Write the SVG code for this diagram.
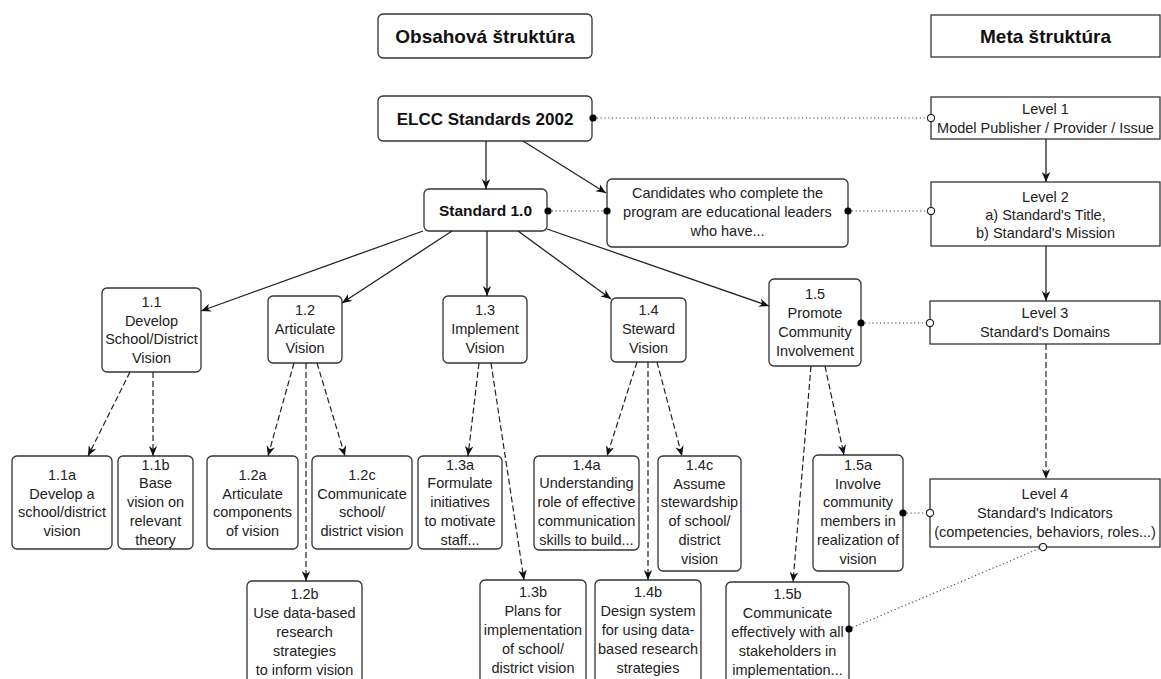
<svg xmlns="http://www.w3.org/2000/svg" width="1161" height="679" viewBox="0 0 1161 679">
<style>
  .box{fill:#fff;stroke:#333;stroke-width:1.3}
  .t{font-family:"Liberation Sans",Arial,sans-serif;font-size:14.5px;fill:#222;text-anchor:middle}
  .h{font-family:"Liberation Sans",Arial,sans-serif;font-size:19px;font-weight:bold;fill:#111;text-anchor:middle}
  .b17{font-family:"Liberation Sans",Arial,sans-serif;font-size:17px;font-weight:bold;fill:#111;text-anchor:middle}
  .b15{font-family:"Liberation Sans",Arial,sans-serif;font-size:15.5px;font-weight:bold;fill:#111;text-anchor:middle}
  .solid{fill:none;stroke:#222;stroke-width:1.3;marker-end:url(#arrow)}
  .dash{fill:none;stroke:#222;stroke-width:1.2;stroke-dasharray:6 3;marker-end:url(#arrow)}
  .dot{fill:none;stroke:#444;stroke-width:1.1;stroke-dasharray:1.2 2.6}
</style>
<defs>
  <marker id="arrow" viewBox="0 0 10 10" refX="10" refY="5" markerWidth="10" markerHeight="10" markerUnits="userSpaceOnUse" orient="auto">
    <path d="M0,0.8 L10,5 L0,9.2 L3,5 z" fill="#111"/>
  </marker>
  <marker id="fdot" viewBox="0 0 10 10" refX="5" refY="5" markerWidth="8" markerHeight="8" markerUnits="userSpaceOnUse">
    <circle cx="5" cy="5" r="4.5" fill="#000"/>
  </marker>
  <marker id="odot" viewBox="0 0 10 10" refX="5" refY="5" markerWidth="9" markerHeight="9" markerUnits="userSpaceOnUse">
    <circle cx="5" cy="5" r="4" fill="#fff" stroke="#222" stroke-width="1.3"/>
  </marker>
</defs>
<rect width="1161" height="679" fill="#fff"/>

<g id="obsahova">
  <rect class="box" x="378" y="14" width="214" height="44" rx="5"/>
  <text class="h" x="485" y="42.5">Obsahová štruktúra</text>
</g>
<g id="meta">
  <rect class="box" x="931" y="15" width="229" height="42"/>
  <text class="h" x="1045.5" y="42.5">Meta štruktúra</text>
</g>
<g id="elcc">
  <rect class="box" x="378" y="96" width="214" height="45" rx="5"/>
  <text class="b17" x="485" y="124.5">ELCC Standards 2002</text>
</g>
<g id="std10">
  <rect class="box" x="424" y="189" width="123" height="42" rx="5"/>
  <text class="b15" x="485.5" y="215.5">Standard 1.0</text>
</g>
<g id="candidates">
  <rect class="box" x="607" y="179" width="241" height="68" rx="5"/>
  <text class="t" x="727.5" y="198">Candidates who complete the</text>
  <text class="t" x="727.5" y="217">program are educational leaders</text>
  <text class="t" x="727.5" y="236">who have...</text>
</g>

<g id="level1">
  <rect class="box" x="931" y="97" width="229" height="42"/>
  <text class="t" x="1045.5" y="114">Level 1</text>
  <text class="t" x="1045.5" y="133">Model Publisher / Provider / Issue</text>
</g>
<g id="level2">
  <rect class="box" x="931" y="182" width="229" height="64"/>
  <text class="t" x="1045.5" y="202">Level 2</text>
  <text class="t" x="1045.5" y="220">a) Standard's Title,</text>
  <text class="t" x="1045.5" y="238">b) Standard's Mission</text>
</g>
<g id="level3">
  <rect class="box" x="930" y="301" width="230" height="43"/>
  <text class="t" x="1045" y="318">Level 3</text>
  <text class="t" x="1045" y="337">Standard's Domains</text>
</g>
<g id="level4">
  <rect class="box" x="930" y="479" width="230" height="68"/>
  <text class="t" x="1045" y="499">Level 4</text>
  <text class="t" x="1045" y="518">Standard's Indicators</text>
  <text class="t" x="1045" y="537">(competencies, behaviors, roles...)</text>
</g>

<g id="n1_1">
  <rect class="box" x="102" y="288" width="99" height="84" rx="5"/>
  <text class="t" x="151.5" y="307">1.1</text>
  <text class="t" x="151.5" y="325.5">Develop</text>
  <text class="t" x="151.5" y="344">School/District</text>
  <text class="t" x="151.5" y="363">Vision</text>
</g>
<g id="n1_2">
  <rect class="box" x="268" y="296" width="74" height="67" rx="5"/>
  <text class="t" x="305" y="315">1.2</text>
  <text class="t" x="305" y="334">Articulate</text>
  <text class="t" x="305" y="353">Vision</text>
</g>
<g id="n1_3">
  <rect class="box" x="443" y="296" width="84" height="67" rx="5"/>
  <text class="t" x="485" y="315">1.3</text>
  <text class="t" x="485" y="334">Implement</text>
  <text class="t" x="485" y="353">Vision</text>
</g>
<g id="n1_4">
  <rect class="box" x="611" y="298" width="75" height="64" rx="5"/>
  <text class="t" x="648.5" y="315">1.4</text>
  <text class="t" x="648.5" y="334">Steward</text>
  <text class="t" x="648.5" y="353">Vision</text>
</g>
<g id="n1_5">
  <rect class="box" x="769" y="279" width="92" height="87" rx="5"/>
  <text class="t" x="815" y="299">1.5</text>
  <text class="t" x="815" y="318">Promote</text>
  <text class="t" x="815" y="337">Community</text>
  <text class="t" x="815" y="355.5">Involvement</text>
</g>

<g id="n1_1a">
  <rect class="box" x="12" y="456" width="100" height="93" rx="5"/>
  <text class="t" x="62" y="480">1.1a</text>
  <text class="t" x="62" y="498.5">Develop a</text>
  <text class="t" x="62" y="517">school/district</text>
  <text class="t" x="62" y="536">vision</text>
</g>
<g id="n1_1b">
  <rect class="box" x="118" y="456" width="75" height="93" rx="5"/>
  <text class="t" x="155.5" y="469.5">1.1b</text>
  <text class="t" x="155.5" y="488">Base</text>
  <text class="t" x="155.5" y="507">vision on</text>
  <text class="t" x="155.5" y="526">relevant</text>
  <text class="t" x="155.5" y="545">theory</text>
</g>
<g id="n1_2a">
  <rect class="box" x="207" y="456" width="91" height="93" rx="5"/>
  <text class="t" x="252.5" y="480">1.2a</text>
  <text class="t" x="252.5" y="498.5">Articulate</text>
  <text class="t" x="252.5" y="517">components</text>
  <text class="t" x="252.5" y="536">of vision</text>
</g>
<g id="n1_2c">
  <rect class="box" x="312" y="456" width="100" height="93" rx="5"/>
  <text class="t" x="362" y="480">1.2c</text>
  <text class="t" x="362" y="498.5">Communicate</text>
  <text class="t" x="362" y="517">school/</text>
  <text class="t" x="362" y="536">district vision</text>
</g>
<g id="n1_3a">
  <rect class="box" x="418" y="456" width="84" height="93" rx="5"/>
  <text class="t" x="460" y="469.5">1.3a</text>
  <text class="t" x="460" y="488">Formulate</text>
  <text class="t" x="460" y="507">initiatives</text>
  <text class="t" x="460" y="526">to motivate</text>
  <text class="t" x="460" y="545">staff...</text>
</g>
<g id="n1_4a">
  <rect class="box" x="534" y="456" width="105" height="94" rx="5"/>
  <text class="t" x="586.5" y="469.5">1.4a</text>
  <text class="t" x="586.5" y="488">Understanding</text>
  <text class="t" x="586.5" y="507">role of effective</text>
  <text class="t" x="586.5" y="526">communication</text>
  <text class="t" x="586.5" y="545">skills to build...</text>
</g>
<g id="n1_4c">
  <rect class="box" x="658" y="456" width="83" height="115" rx="5"/>
  <text class="t" x="699.5" y="470">1.4c</text>
  <text class="t" x="699.5" y="488.5">Assume</text>
  <text class="t" x="699.5" y="507">stewardship</text>
  <text class="t" x="699.5" y="526">of school/</text>
  <text class="t" x="699.5" y="545">district</text>
  <text class="t" x="699.5" y="564">vision</text>
</g>
<g id="n1_5a">
  <rect class="box" x="813" y="455" width="90" height="116" rx="5"/>
  <text class="t" x="858" y="470">1.5a</text>
  <text class="t" x="858" y="488.5">Involve</text>
  <text class="t" x="858" y="507">community</text>
  <text class="t" x="858" y="526">members in</text>
  <text class="t" x="858" y="545">realization of</text>
  <text class="t" x="858" y="564">vision</text>
</g>

<g id="n1_2b">
  <rect class="box" x="247" y="581" width="115" height="120" rx="5"/>
  <text class="t" x="304.5" y="599">1.2b</text>
  <text class="t" x="304.5" y="618">Use data-based</text>
  <text class="t" x="304.5" y="637">research</text>
  <text class="t" x="304.5" y="656">strategies</text>
  <text class="t" x="304.5" y="674.5">to inform vision</text>
</g>
<g id="n1_3b">
  <rect class="box" x="480" y="580" width="106" height="120" rx="5"/>
  <text class="t" x="533" y="597">1.3b</text>
  <text class="t" x="533" y="616">Plans for</text>
  <text class="t" x="533" y="635">implementation</text>
  <text class="t" x="533" y="654">of school/</text>
  <text class="t" x="533" y="673">district vision</text>
</g>
<g id="n1_4b">
  <rect class="box" x="595" y="580" width="106" height="120" rx="5"/>
  <text class="t" x="648" y="597">1.4b</text>
  <text class="t" x="648" y="616">Design system</text>
  <text class="t" x="648" y="635">for using data-</text>
  <text class="t" x="648" y="654">based research</text>
  <text class="t" x="648" y="673">strategies</text>
</g>
<g id="n1_5b">
  <rect class="box" x="726" y="582" width="123" height="120" rx="5"/>
  <text class="t" x="787.5" y="599">1.5b</text>
  <text class="t" x="787.5" y="618">Communicate</text>
  <text class="t" x="787.5" y="637">effectively with all</text>
  <text class="t" x="787.5" y="656">stakeholders in</text>
  <text class="t" x="787.5" y="674.5">implementation...</text>
</g>

<g id="connectors">
  <line class="solid" x1="486" y1="141" x2="486" y2="189"/>
  <line class="solid" x1="523" y1="141" x2="606" y2="193"/>
  <line class="solid" x1="423" y1="231" x2="201" y2="311"/>
  <line class="solid" x1="452" y1="231" x2="342" y2="303"/>
  <line class="solid" x1="487" y1="231" x2="487" y2="296"/>
  <line class="solid" x1="518" y1="231" x2="611" y2="299"/>
  <line class="solid" x1="547" y1="229" x2="769" y2="306"/>
  <line class="solid" x1="1046" y1="139" x2="1046" y2="182"/>
  <line class="solid" x1="1046" y1="246" x2="1046" y2="301"/>

  <line class="dash" x1="1046" y1="344" x2="1046" y2="479"/>
  <line class="dash" x1="130" y1="372" x2="88" y2="456"/>
  <line class="dash" x1="153" y1="372" x2="153" y2="456"/>
  <line class="dash" x1="294" y1="363" x2="268" y2="456"/>
  <line class="dash" x1="306" y1="363" x2="306" y2="581"/>
  <line class="dash" x1="317" y1="363" x2="345" y2="456"/>
  <line class="dash" x1="479" y1="363" x2="468" y2="456"/>
  <line class="dash" x1="491" y1="363" x2="524" y2="580"/>
  <line class="dash" x1="637" y1="362" x2="607" y2="456"/>
  <line class="dash" x1="648" y1="362" x2="648" y2="580"/>
  <line class="dash" x1="657" y1="362" x2="682" y2="456"/>
  <line class="dash" x1="811" y1="366" x2="793" y2="582"/>
  <line class="dash" x1="825" y1="366" x2="844" y2="455"/>

  <line class="dot" x1="593" y1="118" x2="931" y2="118" marker-start="url(#fdot)" marker-end="url(#odot)"/>
  <line class="dot" x1="548" y1="211" x2="607" y2="211" marker-start="url(#fdot)" marker-end="url(#fdot)"/>
  <line class="dot" x1="848" y1="211" x2="931" y2="211" marker-start="url(#fdot)" marker-end="url(#odot)"/>
  <line class="dot" x1="861" y1="323" x2="930" y2="323" marker-start="url(#fdot)" marker-end="url(#odot)"/>
  <line class="dot" x1="903" y1="513" x2="930" y2="513" marker-start="url(#fdot)" marker-end="url(#odot)"/>
  <line class="dot" x1="849" y1="629" x2="1043" y2="547" marker-start="url(#fdot)" marker-end="url(#odot)"/>
</g>
</svg>
